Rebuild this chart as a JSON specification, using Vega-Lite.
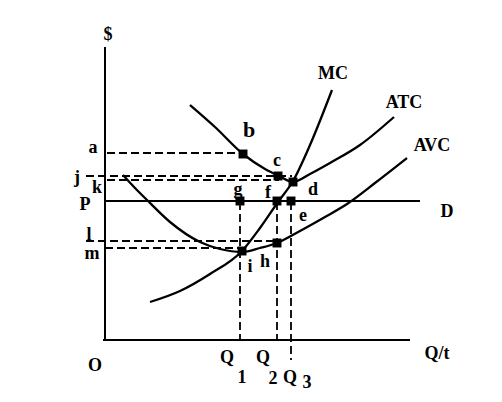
{
  "$schema": "https://vega.github.io/schema/vega-lite/v6.json",
  "autosize": {"type": "fit", "contains": "padding"},
  "width": 502,
  "height": 402,
  "padding": 0,
  "background": "white",
  "config": {"view": {"stroke": null}},
  "datasets": {
    "curves": [
      {"curve": "MC", "q": 45, "c": 38}, {"curve": "MC", "q": 75, "c": 49}, {"curve": "MC", "q": 105, "c": 66},
      {"curve": "MC", "q": 137, "c": 89}, {"curve": "MC", "q": 155, "c": 112}, {"curve": "MC", "q": 173, "c": 138},
      {"curve": "MC", "q": 188, "c": 159}, {"curve": "MC", "q": 205, "c": 195}, {"curve": "MC", "q": 227, "c": 250},
      {"curve": "ATC", "q": 85, "c": 235}, {"curve": "ATC", "q": 110, "c": 213}, {"curve": "ATC", "q": 138, "c": 186},
      {"curve": "ATC", "q": 160, "c": 171}, {"curve": "ATC", "q": 174, "c": 164}, {"curve": "ATC", "q": 188, "c": 158},
      {"curve": "ATC", "q": 205, "c": 166}, {"curve": "ATC", "q": 225, "c": 177}, {"curve": "ATC", "q": 255, "c": 195},
      {"curve": "ATC", "q": 289, "c": 223},
      {"curve": "AVC", "q": 18, "c": 165}, {"curve": "AVC", "q": 30, "c": 152}, {"curve": "AVC", "q": 42, "c": 140},
      {"curve": "AVC", "q": 65, "c": 118}, {"curve": "AVC", "q": 95, "c": 98}, {"curve": "AVC", "q": 115, "c": 91},
      {"curve": "AVC", "q": 137, "c": 88}, {"curve": "AVC", "q": 155, "c": 92}, {"curve": "AVC", "q": 172, "c": 97},
      {"curve": "AVC", "q": 195, "c": 109}, {"curve": "AVC", "q": 220, "c": 123}, {"curve": "AVC", "q": 242, "c": 136},
      {"curve": "AVC", "q": 270, "c": 157}, {"curve": "AVC", "q": 302, "c": 182}
    ],
    "solid": [
      {"name": "price axis", "q": 0, "c": 293, "q2": 0, "c2": 0},
      {"name": "quantity axis", "q": -2, "c": 0, "q2": 305, "c2": 0},
      {"name": "D", "q": 0, "c": 139, "q2": 315, "c2": 139}
    ],
    "dashed": [
      {"name": "a", "q": 2, "c": 187, "q2": 138, "c2": 187},
      {"name": "j", "q": -19, "c": 164, "q2": 187, "c2": 164},
      {"name": "k", "q": 2, "c": 160, "q2": 174, "c2": 160},
      {"name": "l", "q": -19, "c": 99, "q2": 172, "c2": 99},
      {"name": "m", "q": 0, "c": 92, "q2": 137, "c2": 92},
      {"name": "Q1", "q": 135, "c": 138, "q2": 135, "c2": 0},
      {"name": "Q2", "q": 172, "c": 138, "q2": 172, "c2": 0},
      {"name": "Q3", "q": 186, "c": 138, "q2": 186, "c2": -20}
    ],
    "points": [
      {"name": "b", "q": 138, "c": 186},
      {"name": "c", "q": 173, "c": 164},
      {"name": "d", "q": 188, "c": 158},
      {"name": "f", "q": 172, "c": 139},
      {"name": "e", "q": 186, "c": 139},
      {"name": "g", "q": 135, "c": 139},
      {"name": "h", "q": 172, "c": 97},
      {"name": "i", "q": 137, "c": 89}
    ],
    "labels": [
      {"t": "$", "q": 3, "c": 305},
      {"t": "MC", "q": 228, "c": 266},
      {"t": "ATC", "q": 299, "c": 237},
      {"t": "AVC", "q": 327, "c": 194},
      {"t": "D", "q": 342, "c": 128},
      {"t": "Q/t", "q": 332, "c": -14},
      {"t": "O", "q": -10, "c": -26},
      {"t": "Q", "q": 122, "c": -18},
      {"t": "1", "q": 137, "c": -38},
      {"t": "Q", "q": 158, "c": -18},
      {"t": "2", "q": 168, "c": -39},
      {"t": "Q", "q": 185, "c": -38},
      {"t": "3", "q": 202, "c": -43},
      {"t": "a", "q": -12, "c": 192},
      {"t": "j", "q": -28, "c": 162},
      {"t": "k", "q": -8, "c": 152},
      {"t": "P", "q": -20, "c": 135},
      {"t": "l", "q": -16, "c": 105},
      {"t": "m", "q": -13, "c": 86},
      {"t": "c", "q": 172, "c": 179},
      {"t": "g", "q": 133, "c": 150},
      {"t": "f", "q": 163, "c": 147},
      {"t": "d", "q": 208, "c": 150},
      {"t": "e", "q": 198, "c": 124},
      {"t": "h", "q": 160, "c": 78},
      {"t": "i", "q": 145, "c": 73}
    ],
    "bold": [
      {"t": "b", "q": 144, "c": 210}
    ]
  },
  "layer": [
    {
      "data": {"name": "solid"},
      "mark": {"type": "rule", "color": "black", "strokeWidth": 2},
      "encoding": {
        "x": {"field": "q", "type": "quantitative", "scale": {"domain": [-105, 397], "nice": false, "zero": false}, "axis": null},
        "y": {"field": "c", "type": "quantitative", "scale": {"domain": [-62, 340], "nice": false, "zero": false}, "axis": null},
        "x2": {"field": "q2"},
        "y2": {"field": "c2"}
      }
    },
    {
      "data": {"name": "dashed"},
      "mark": {"type": "rule", "color": "black", "strokeWidth": 1.8, "strokeDash": [8, 4]},
      "encoding": {
        "x": {"field": "q", "type": "quantitative"},
        "y": {"field": "c", "type": "quantitative"},
        "x2": {"field": "q2"},
        "y2": {"field": "c2"}
      }
    },
    {
      "data": {"name": "curves"},
      "mark": {"type": "line", "color": "black", "strokeWidth": 2.3, "interpolate": "monotone"},
      "encoding": {
        "x": {"field": "q", "type": "quantitative"},
        "y": {"field": "c", "type": "quantitative"},
        "detail": {"field": "curve"}
      }
    },
    {
      "data": {"name": "points"},
      "mark": {"type": "square", "color": "black", "filled": true, "opacity": 1, "size": 80},
      "encoding": {
        "x": {"field": "q", "type": "quantitative"},
        "y": {"field": "c", "type": "quantitative"}
      }
    },
    {
      "data": {"name": "labels"},
      "mark": {"type": "text", "font": "Liberation Serif", "fontSize": 18, "fontWeight": "bold", "color": "black", "align": "center", "baseline": "middle"},
      "encoding": {
        "x": {"field": "q", "type": "quantitative"},
        "y": {"field": "c", "type": "quantitative"},
        "text": {"field": "t"}
      }
    },
    {
      "data": {"name": "bold"},
      "mark": {"type": "text", "font": "Liberation Serif", "fontSize": 22, "fontWeight": "bold", "color": "black", "align": "center", "baseline": "middle"},
      "encoding": {
        "x": {"field": "q", "type": "quantitative"},
        "y": {"field": "c", "type": "quantitative"},
        "text": {"field": "t"}
      }
    }
  ]
}
